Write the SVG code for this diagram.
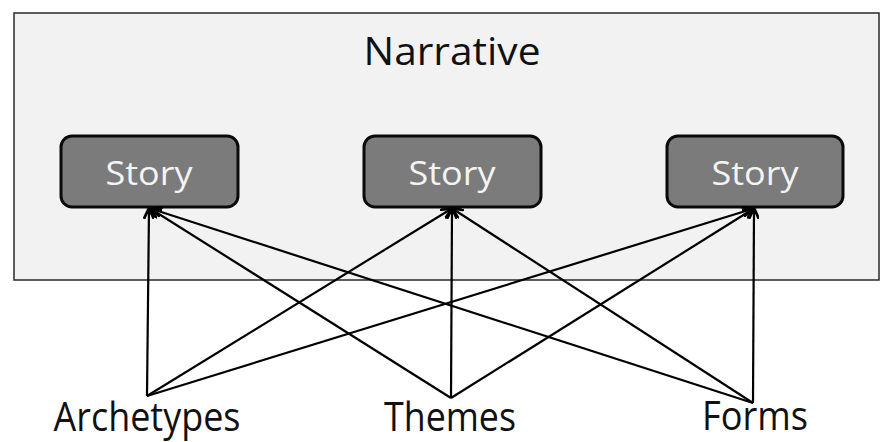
<svg xmlns="http://www.w3.org/2000/svg" width="881" height="442" viewBox="0 0 881 442">
<defs>
<style>
.frame{fill:#f2f2f2;stroke:#2a2a2a;stroke-width:1.5}
.story{fill:#7b7b7b;stroke:#0a0a0a;stroke-width:3}
.stext{font-family:"Open Sans","Liberation Sans",sans-serif;font-size:33px;fill:#f4f4f4;text-anchor:middle}
.label{font-family:"Open Sans","Liberation Sans",sans-serif;font-size:38px;fill:#111;text-anchor:middle}
.big{font-size:40px}
.conn{stroke:#000;stroke-width:2.2;fill:none;marker-end:url(#arr)}
</style>
<marker id="arr" viewBox="0 0 10 10" refX="9" refY="5" markerWidth="5" markerHeight="5" orient="auto-start-reverse" markerUnits="strokeWidth">
<path d="M0,0.5 L10,5 L0,9.5" fill="none" stroke="#000" stroke-width="2.5"/>
</marker>
</defs>
<rect class="frame" x="14" y="13" width="865" height="267"/>
<g id="narrative"><text class="label" x="452" y="65" textLength="177" lengthAdjust="spacingAndGlyphs">Narrative</text></g>
<g id="story1"><rect class="story" x="61" y="136" width="177" height="71" rx="11"/><text class="stext" x="149" y="185" textLength="87" lengthAdjust="spacingAndGlyphs">Story</text></g>
<g id="story2"><rect class="story" x="364" y="136" width="177" height="71" rx="11"/><text class="stext" x="452" y="185" textLength="87" lengthAdjust="spacingAndGlyphs">Story</text></g>
<g id="story3"><rect class="story" x="667" y="136" width="176" height="71" rx="11"/><text class="stext" x="755" y="185" textLength="87" lengthAdjust="spacingAndGlyphs">Story</text></g>
<g id="connectors">
<line class="conn" x1="147" y1="396" x2="149" y2="209"/>
<line class="conn" x1="147" y1="396" x2="451" y2="209"/>
<line class="conn" x1="147" y1="396" x2="752" y2="209"/>
<line class="conn" x1="451" y1="398" x2="151" y2="209"/>
<line class="conn" x1="451" y1="398" x2="452" y2="209"/>
<line class="conn" x1="451" y1="398" x2="753" y2="209"/>
<line class="conn" x1="753" y1="403" x2="152" y2="209"/>
<line class="conn" x1="753" y1="403" x2="453" y2="209"/>
<line class="conn" x1="753" y1="403" x2="754" y2="209"/>
</g>
<g id="archetypes"><text class="label big" x="147" y="431" textLength="187" lengthAdjust="spacingAndGlyphs">Archetypes</text></g>
<g id="themes"><text class="label big" x="450" y="431" textLength="132" lengthAdjust="spacingAndGlyphs">Themes</text></g>
<g id="forms"><text class="label big" x="755" y="430" textLength="106" lengthAdjust="spacingAndGlyphs">Forms</text></g>
</svg>
